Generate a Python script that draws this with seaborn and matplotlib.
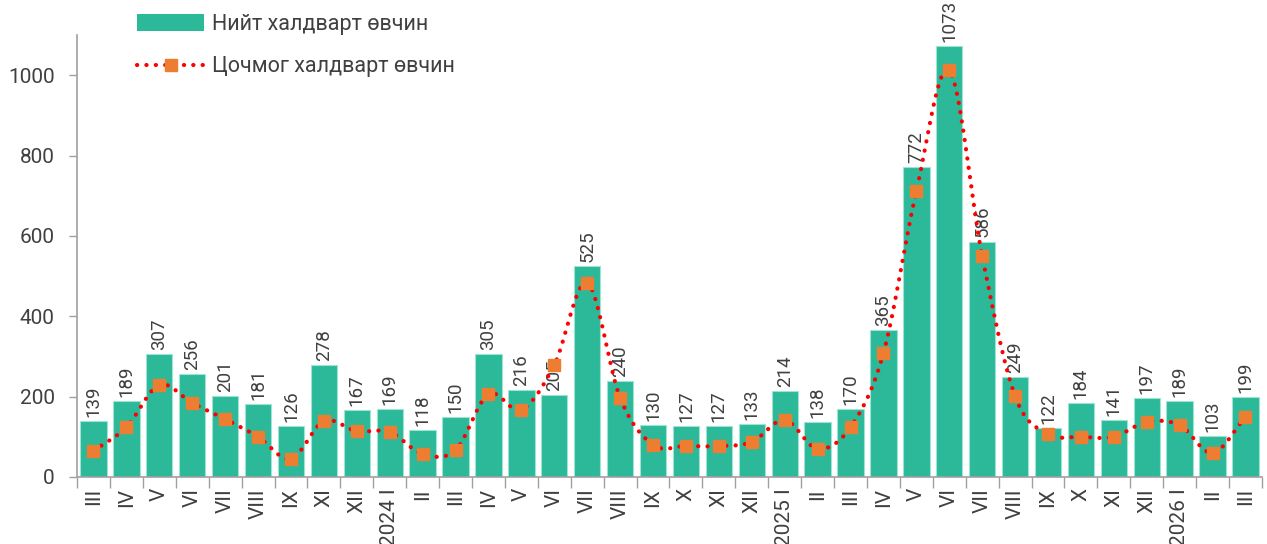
import numpy as np
import pandas as pd
import matplotlib
matplotlib.use("Agg")
import matplotlib.pyplot as plt
from matplotlib.lines import Line2D
from matplotlib.patches import Patch
import seaborn as sns

# Data
months = ["III", "IV", "V", "VI", "VII", "VIII", "IX", "XI", "XII", "2024 I",
          "II", "III", "IV", "V", "VI", "VII", "VIII", "IX", "X", "XI", "XII", "2025 I",
          "II", "III", "IV", "V", "VI", "VII", "VIII", "IX", "X", "XI", "XII", "2026 I",
          "II", "III"]
total_cases = [139, 189, 307, 256, 201, 181, 126, 278, 167, 169,
               118, 150, 305, 216, 205, 525, 240, 130, 127, 127, 133, 214,
               138, 170, 365, 772, 1073, 586, 249, 122, 184, 141, 197, 189,
               103, 199]
acute_cases = [65, 124, 229, 184, 144, 100, 45, 139, 114, 112,
               57, 67, 206, 167, 279, 483, 197, 80, 77, 77, 87, 142,
               70, 124, 308, 711, 1012, 550, 201, 107, 100, 100, 137, 129,
               60, 149]

bar_color = "#2bb99a"
text_color = "#404040"

sns.set_theme(style="white")
plt.rcParams["font.family"] = ["Roboto", "DejaVu Sans"]


def smooth_curve(x, y, n=20):
    # Catmull-Rom style smoothing, like a spreadsheet "smoothed line"
    x = np.asarray(x, float)
    y = np.asarray(y, float)
    px = np.concatenate([[2 * x[0] - x[1]], x, [2 * x[-1] - x[-2]]])
    py = np.concatenate([[2 * y[0] - y[1]], y, [2 * y[-1] - y[-2]]])
    xs, ys = [], []
    t = np.linspace(0, 1, n, endpoint=False)
    for i in range(1, len(px) - 2):
        p0, p1, p2, p3 = py[i - 1], py[i], py[i + 1], py[i + 2]
        q0, q1, q2, q3 = px[i - 1], px[i], px[i + 1], px[i + 2]
        yy = 0.5 * ((2 * p1) + (-p0 + p2) * t + (2 * p0 - 5 * p1 + 4 * p2 - p3) * t ** 2
                    + (-p0 + 3 * p1 - 3 * p2 + p3) * t ** 3)
        xx = 0.5 * ((2 * q1) + (-q0 + q2) * t + (2 * q0 - 5 * q1 + 4 * q2 - q3) * t ** 2
                    + (-q0 + 3 * q1 - 3 * q2 + q3) * t ** 3)
        xs.extend(xx)
        ys.extend(yy)
    xs.append(x[-1])
    ys.append(y[-1])
    return np.array(xs), np.array(ys)


df = pd.DataFrame({"pos": range(len(months)), "total": total_cases, "acute": acute_cases})

fig = plt.figure(figsize=(12.67, 5.44), dpi=100)
ax = fig.add_axes([0.0608, 0.1232, 0.9352, 0.8125])

sns.barplot(data=df, x="pos", y="total", color=bar_color, width=0.8,
            edgecolor="#9fe3d3", linewidth=0.8, saturation=1, ax=ax)

for i, v in enumerate(total_cases):
    ax.text(i, v + 10, str(v), rotation=90, ha="center", va="bottom",
            fontsize=13.5, color=text_color)

sx, sy = smooth_curve(df["pos"], df["acute"])
ax.plot(sx, sy, color="#ff0000", linewidth=3, linestyle=(0, (0.05, 2.2)),
        dash_capstyle="round", zorder=3)
ax.plot(df["pos"], df["acute"], linestyle="none", marker="s", markersize=8,
        color="#ed7d31", zorder=4)

ax.set_xlim(-0.5, len(months) - 0.5)
ax.set_ylim(0, 1100)
ax.set_yticks([0, 200, 400, 600, 800, 1000])
ax.set_xticks(range(len(months)))
ax.set_xticklabels(months, rotation=90, fontsize=15, color=text_color)
ax.set_xticks(np.arange(-0.5, len(months), 1), minor=True)
ax.tick_params(axis="x", which="major", length=0, pad=8)
ax.tick_params(axis="x", which="minor", length=8, width=1, color="#a0a0a0", direction="out",
               bottom=True)
ax.tick_params(axis="y", length=6, width=1, color="#a0a0a0", direction="out", left=True,
               labelsize=15, labelcolor=text_color, pad=10)
ax.set_xlabel("")
ax.set_ylabel("")
for s in ["top", "right"]:
    ax.spines[s].set_visible(False)
for s in ["left", "bottom"]:
    ax.spines[s].set_color("#a0a0a0")
    ax.spines[s].set_linewidth(1.2)

handles = [
    Patch(facecolor=bar_color, edgecolor="none"),
    Line2D([0], [0], color="#ff0000", linewidth=3, linestyle=(0, (0.05, 2.2)),
           dash_capstyle="round", marker="s", markersize=8,
           markerfacecolor="#ed7d31", markeredgecolor="#ed7d31"),
]
labels = ["Нийт халдварт өвчин", "Цочмог халдварт өвчин"]
leg = fig.legend(handles, labels, loc="upper left", bbox_to_anchor=(0.093, 1.01),
                 frameon=False, handlelength=3.1, handleheight=0.8, labelspacing=1.0,
                 handletextpad=0.37, fontsize=15.5, labelcolor=text_color)

fig.savefig("out.png", dpi=100)
